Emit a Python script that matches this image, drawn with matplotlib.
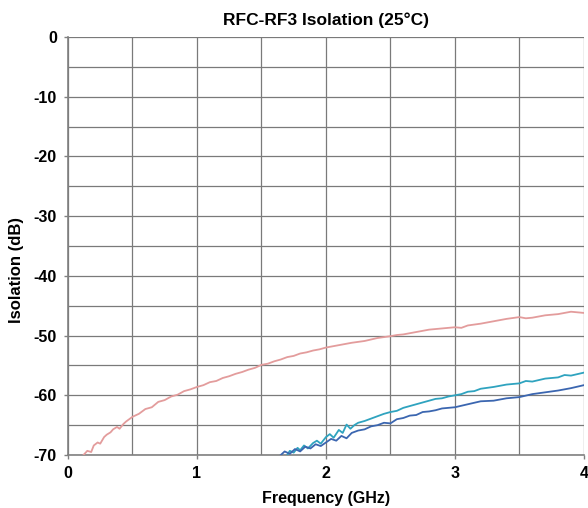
import matplotlib
matplotlib.use("Agg")
import matplotlib.pyplot as plt

plt.rcParams['font.family'] = ['Liberation Sans', 'DejaVu Sans']
plt.rcParams['axes.unicode_minus'] = False

# frequency (GHz) / isolation (dB)
red_f = [0.12, 0.15, 0.18, 0.2, 0.23, 0.25, 0.28, 0.3, 0.33, 0.35, 0.38, 0.4, 0.43, 0.45,
         0.5, 0.55, 0.6, 0.65, 0.7, 0.75, 0.8, 0.85, 0.9, 0.95, 1.0, 1.05, 1.1, 1.15,
         1.2, 1.25, 1.3, 1.35, 1.4, 1.45, 1.5, 1.55, 1.6, 1.65, 1.7, 1.75, 1.8, 1.85,
         1.9, 1.95, 2.0, 2.1, 2.2, 2.3, 2.4, 2.5, 2.55, 2.6, 2.7, 2.8, 2.9, 3.0, 3.05,
         3.1, 3.2, 3.3, 3.4, 3.5, 3.55, 3.6, 3.7, 3.8, 3.9, 3.95, 4.0]
red_db = [-70.0, -69.3, -69.5, -68.4, -67.9, -68.1, -67.0, -66.6, -66.2, -65.7, -65.3, -65.6, -64.8, -64.4,
          -63.6, -63.1, -62.3, -62.0, -61.1, -60.8, -60.2, -59.9, -59.3, -59.0, -58.6, -58.3, -57.8, -57.6,
          -57.1, -56.8, -56.4, -56.1, -55.7, -55.4, -54.9, -54.7, -54.3, -54.0, -53.6, -53.4, -53.0, -52.8,
          -52.5, -52.3, -52.0, -51.6, -51.2, -50.9, -50.4, -50.1, -49.9, -49.8, -49.4, -49.0, -48.8, -48.6, -48.7,
          -48.3, -48.0, -47.6, -47.2, -46.9, -47.1, -47.0, -46.6, -46.4, -46.0, -46.1, -46.2]

teal_f = [1.70, 1.72, 1.75, 1.78, 1.80, 1.83, 1.86, 1.90, 1.93, 1.96, 2.00, 2.03, 2.06, 2.10,
          2.13, 2.16, 2.19, 2.22, 2.25, 2.30, 2.35, 2.40, 2.45, 2.50, 2.55, 2.60, 2.65, 2.70,
          2.75, 2.80, 2.85, 2.90, 2.95, 3.00, 3.05, 3.10, 3.15, 3.20, 3.30, 3.40, 3.50, 3.55,
          3.60, 3.70, 3.80, 3.85, 3.90, 4.00]
teal_db = [-70.0, -69.3, -69.6, -68.8, -69.2, -68.4, -68.9, -68.0, -67.6, -68.1, -67.0, -66.5, -67.1, -65.8,
           -66.3, -64.9, -65.6, -65.0, -64.6, -64.3, -63.9, -63.5, -63.1, -62.8, -62.6, -62.1, -61.8, -61.5,
           -61.2, -60.9, -60.6, -60.5, -60.2, -60.0, -59.8, -59.4, -59.3, -58.9, -58.6, -58.2, -58.0, -57.6,
           -57.7, -57.2, -57.0, -56.6, -56.7, -56.2]

blue_f = [1.65, 1.68, 1.72, 1.76, 1.80, 1.84, 1.88, 1.92, 1.96, 2.00, 2.04, 2.08, 2.12, 2.16,
          2.20, 2.25, 2.30, 2.35, 2.40, 2.45, 2.50, 2.55, 2.60, 2.65, 2.70, 2.75, 2.80, 2.85,
          2.90, 2.95, 3.00, 3.10, 3.20, 3.30, 3.40, 3.50, 3.60, 3.70, 3.80, 3.90, 4.00]
blue_db = [-70.0, -69.4, -69.8, -69.0, -69.4, -68.6, -68.9, -68.2, -68.5, -67.9, -67.3, -67.6, -66.8, -67.2,
           -66.3, -65.9, -65.7, -65.2, -65.0, -64.6, -64.7, -64.0, -63.8, -63.4, -63.3, -62.8, -62.7, -62.5,
           -62.2, -62.1, -62.0, -61.5, -61.0, -60.9, -60.5, -60.3, -59.8, -59.5, -59.2, -58.8, -58.3]

x_ticks = [0, 1, 2, 3, 4]
y_ticks = [0, -10, -20, -30, -40, -50, -60, -70]

fig = plt.figure(figsize=(5.88, 5.08), dpi=100)
ax = fig.add_axes([0.1156, 0.1043, 0.8774, 0.8227])

ax.plot(red_f, red_db, color='#e39c9c', lw=1.3, zorder=3)
ax.plot(teal_f, teal_db, color='#2fa3bf', lw=1.3, zorder=3)
ax.plot(blue_f, blue_db, color='#3b66b0', lw=1.3, zorder=3)

ax.set_xlim(0, 4)
ax.set_ylim(-70, 0)
ax.set_xticks(x_ticks)
ax.set_yticks(y_ticks)
ax.set_xticks([0.5, 1.5, 2.5, 3.5], minor=True)
ax.set_yticks([-5, -15, -25, -35, -45, -55, -65], minor=True)
ax.tick_params(which='minor', length=0)
ax.tick_params(which='major', length=3, width=1, color='#808080', labelsize=11.5, pad=5)
for lab in ax.get_xticklabels() + ax.get_yticklabels():
    lab.set_fontweight('bold')

ax.grid(True, which='both', color='#7a7a7a', lw=0.9)
ax.set_axisbelow(True)
for side in ['top', 'right']:
    ax.spines[side].set_visible(False)
for side in ['left', 'bottom']:
    ax.spines[side].set_color('#808080')
    ax.spines[side].set_linewidth(1.2)

ax.set_title('RFC-RF3 Isolation (25°C)', fontsize=12.5, fontweight='bold', pad=9)
ax.set_xlabel('Frequency (GHz)', fontsize=11.5, fontweight='bold')
ax.set_ylabel('Isolation (dB)', fontsize=12, fontweight='bold')
ax.xaxis.set_label_coords(0.5, -0.085)
ax.yaxis.set_label_coords(-0.086, 0.443)

fig.savefig('out.png', dpi=100)
